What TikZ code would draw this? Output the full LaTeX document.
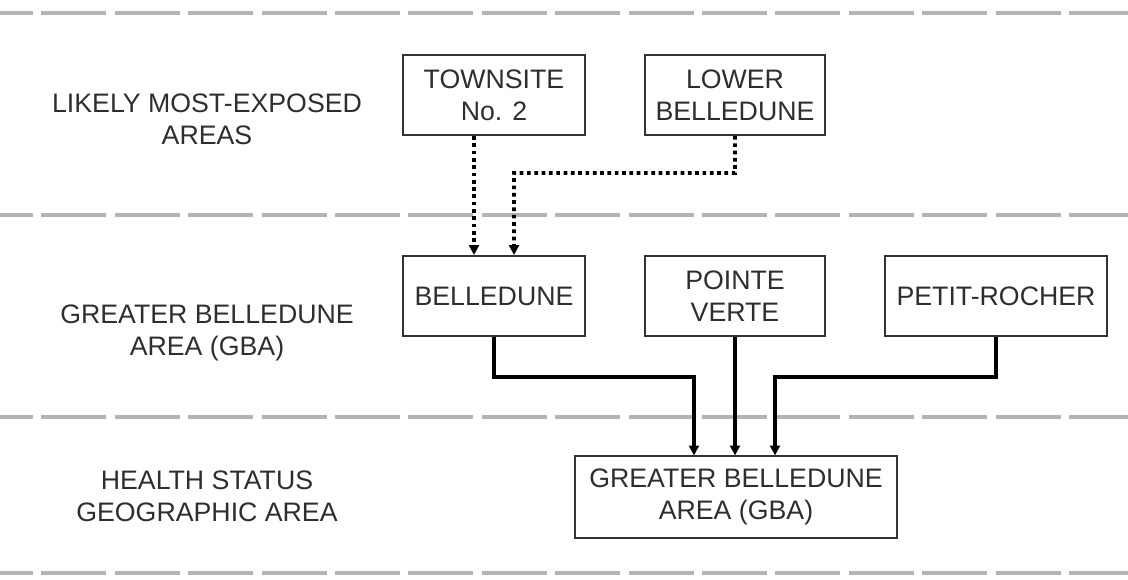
\documentclass[tikz,border=0pt]{standalone}
\usepackage{fontspec}
\setmainfont{Liberation Sans}
\usepackage{xcolor}
\usetikzlibrary{positioning,calc,arrows.meta}
\definecolor{boxline}{HTML}{333333}
\definecolor{txtgray}{HTML}{2e2e2e}
\definecolor{sepgray}{HTML}{b4b4b4}

\begin{document}
\begin{tikzpicture}[x=0.025cm, y=-0.025cm, >={Triangle[width=7pt,length=7pt]},
    areabox/.style={draw=boxline, line width=1.4pt, fill=white, minimum height=2.0cm, align=center, inner sep=0pt, text=txtgray, font=\fontsize{19}{23}\selectfont},
    tierlabel/.style={align=center, text=txtgray, font=\fontsize{19}{23}\selectfont},
    sepline/.style={draw=sepgray, line width=2.8pt, dash pattern=on 46.2pt off 6pt},
    dotlink/.style={line width=2.8pt, dash pattern=on 2.6pt off 2.6pt, black},
    solidlink/.style={line width=2.8pt, black}]
  \useasboundingbox (0,0) rectangle (1128,579);

  % Tier separators
  \foreach \y in {13,215,417,573}
    \draw[sepline] (-32,\y) -- (1128,\y);

  % Tier labels
  \node[tierlabel] (lblexposed) at (207,119) {LIKELY MOST-EXPOSED\\AREAS};
  \node[tierlabel] (lblgba) at (207,333) {GREATER BELLEDUNE\\AREA (GBA)};
  \node[tierlabel] (lblhealth) at (207,496) {HEALTH STATUS\\GEOGRAPHIC AREA};

  % Most-exposed areas
  \node[areabox, minimum width=4.55cm] (townsite) at (494,95) {TOWNSITE\\No. 2};
  \node[areabox, minimum width=4.5cm] (lower) at (735,95) {LOWER\\BELLEDUNE};

  % Greater Belledune communities
  \node[areabox, minimum width=4.55cm] (belledune) at (494,296) {BELLEDUNE};
  \node[areabox, minimum width=4.5cm] (pointe) at (735,296) {POINTE\\VERTE};
  \node[areabox, minimum width=5.55cm] (petit) at (996,296) {PETIT-ROCHER};

  % Health status area
  \node[areabox, minimum width=8.05cm, minimum height=2.03cm] (gba) at (736,497) {GREATER BELLEDUNE\\AREA (GBA)};

  % Dotted links into Belledune
  \coordinate (dotbend) at (514,173);
  \draw[dotlink, ->] ([xshift=-0.5cm]townsite.south) -- ([xshift=-0.5cm]belledune.north);
  \draw[dotlink, ->] (lower.south) |- (dotbend) -- ([xshift=0.5cm]belledune.north);

  % Solid links into the GBA
  \coordinate (jleft) at (694,377);
  \coordinate (jright) at (775,377);
  \draw[solidlink, ->] (belledune.south) |- (jleft) -- (jleft |- gba.north);
  \draw[solidlink, ->] (pointe.south) -- (pointe.south |- gba.north);
  \draw[solidlink, ->] (petit.south) |- (jright) -- (jright |- gba.north);
\end{tikzpicture}
\end{document}
